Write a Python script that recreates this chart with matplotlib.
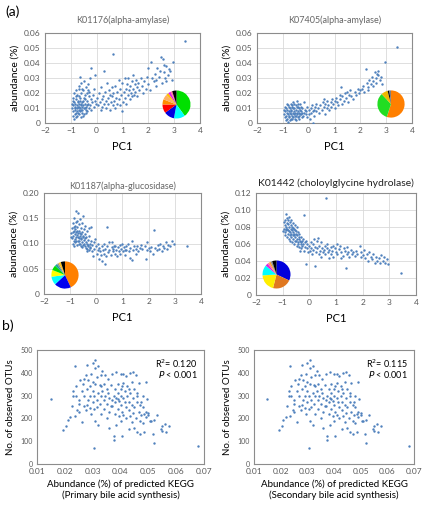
import numpy as np
import matplotlib.pyplot as plt

plt.rcParams['font.family'] = ['Lato', 'DejaVu Sans']

# ---- data ----
# panel a1: K01176, y in 0.001 %
k01176 = [(-0.95,10),(-0.92,12),(-0.9,8),(-0.88,14),(-0.85,6),(-0.85,11),(-0.83,9),(-0.82,13),(-0.8,7),(-0.8,16),
 (-0.78,10),(-0.77,12),(-0.75,5),(-0.75,8),(-0.74,14),(-0.72,11),(-0.7,9),(-0.7,18),(-0.68,6),(-0.68,13),(-0.66,10),
 (-0.65,15),(-0.63,8),(-0.62,12),(-0.6,4),(-0.6,20),(-0.58,11),(-0.57,9),(-0.55,14),(-0.55,7),(-0.53,22),(-0.52,12),
 (-0.5,10),(-0.5,17),(-0.48,6),(-0.47,13),(-0.45,19),(-0.43,9),(-0.42,24),(-0.4,11),(-0.38,15),(-0.36,8),(-0.35,26),
 (-0.33,13),(-0.3,18),(-0.3,10),(-0.28,21),(-0.25,12),(-0.25,30),(-0.22,16),(-0.2,9),(-0.2,37),(-0.18,14),(-0.15,19),
 (-0.12,11),(-0.1,23),(-0.08,15),(-0.05,32),(-0.02,13),(0.0,17),(-0.97,13),(-0.93,5),(-0.9,17),(-0.87,3),(-0.86,20),
 (-0.84,10),(-0.81,22),(-0.79,4),(-0.76,19),(-0.73,7),(-0.71,15),(-0.69,25),(-0.67,11),(-0.64,17),(-0.61,9),(-0.59,13),
 (-0.56,23),(-0.54,5),(-0.51,15),(-0.49,28),(-0.46,10),(-0.44,16),(-0.41,7),(-0.39,20),(-0.37,12),(-0.34,22),(-0.65,31),
 (-0.6,27),(-0.7,23),(-0.8,18),(-0.9,15),
 (0.05,12),(0.1,20),(0.12,14),(0.15,9),(0.18,24),(0.2,16),(0.22,11),(0.25,18),(0.28,13),(0.3,35),(0.32,21),(0.35,15),
 (0.38,10),(0.4,27),(0.42,17),(0.45,13),(0.48,22),(0.5,19),(0.52,9),(0.55,14),(0.58,24),(0.6,18),(0.62,12),(0.65,46),
 (0.65,20),(0.68,15),(0.7,10),(0.72,25),(0.75,17),(0.78,13),(0.8,21),(0.85,29),(0.88,16),(0.9,12),(0.92,23),(0.95,19),
 (0.98,8),(1.0,27),(1.02,14),(1.05,21),(1.08,30),(1.1,17),(1.12,23),(1.15,13),(1.18,26),(1.2,19),(1.22,30),(1.25,22),
 (1.28,16),(1.3,25),(1.32,20),(1.35,28),(1.38,18),(1.4,32),(1.42,23),(1.45,19),(1.48,26),(1.5,21),(1.52,29),(1.55,24),
 (1.58,18),(1.6,27),(1.65,22),(1.7,30),(1.75,25),(1.8,20),(1.85,28),(1.9,23),(1.95,31),(2.0,26),(2.05,22),
 (2.1,41),(2.15,30),(2.2,28),(2.25,33),(2.3,29),(2.35,37),(2.4,31),(2.45,35),(2.5,44),(2.52,27),(2.55,43),(2.6,34),
 (2.65,30),(2.7,38),(2.75,32),(2.8,36),(2.85,35),(2.9,29),(2.95,41),(3.4,55),(2.0,37),(2.3,25),(2.6,39),(2.7,28)]

# panel a2: K07405, y in 0.001 %
k07405 = [(-0.95,6),(-0.93,8),(-0.9,4),(-0.88,10),(-0.86,5),(-0.85,7),(-0.83,3),(-0.82,9),(-0.8,6),(-0.8,12),(-0.78,4),
 (-0.77,8),(-0.75,5),(-0.74,10),(-0.72,7),(-0.7,3),(-0.7,13),(-0.68,6),(-0.67,9),(-0.65,5),(-0.64,11),(-0.62,7),(-0.6,4),
 (-0.6,14),(-0.58,8),(-0.57,6),(-0.55,10),(-0.54,3),(-0.52,7),(-0.5,12),(-0.5,5),(-0.48,9),(-0.46,6),(-0.45,15),(-0.43,8),
 (-0.42,4),(-0.4,11),(-0.38,7),(-0.36,5),(-0.35,9),(-0.33,13),(-0.3,6),(-0.28,8),(-0.25,10),(-0.22,5),(-0.2,7),(-0.18,14),
 (-0.15,9),(-0.12,6),(-0.1,8),(-0.08,4),(-0.05,11),(-0.97,9),(-0.91,11),(-0.87,2),(-0.84,13),(-0.79,1),(-0.76,11),
 (-0.73,2),(-0.69,8),(-0.66,12),(-0.63,3),(-0.59,10),(-0.56,13),(-0.53,5),(-0.49,2),(-0.47,11),(-0.44,7),(-0.41,13),
 (-0.39,3),(-0.37,10),(-0.34,6),(-0.31,11),(-0.27,4),(-0.24,7),
 (0.0,9),(0.03,6),(0.05,3),(0.08,10),(0.1,7),(0.12,12),(0.15,8),(0.18,0),(0.2,9),(0.22,5),(0.25,11),(0.28,8),(0.3,13),
 (0.35,10),(0.4,7),(0.45,12),(0.5,9),(0.55,14),(0.58,16),(0.6,11),(0.62,6),(0.65,13),(0.7,10),(0.72,15),(0.75,12),
 (0.8,9),(0.85,14),(0.88,11),(0.9,16),(0.95,13),(1.0,15),(1.02,10),(1.05,17),(1.1,14),(1.15,12),(1.2,19),(1.22,16),
 (1.25,24),(1.28,13),(1.3,18),(1.35,15),(1.4,20),(1.45,17),(1.5,21),(1.52,14),(1.55,19),(1.6,22),(1.65,18),(1.7,16),
 (1.8,21),(1.85,19),(1.9,23),(1.95,20),(2.0,22),
 (2.05,23),(2.1,25),(2.15,21),(2.2,36),(2.25,27),(2.3,24),(2.35,29),(2.4,26),(2.45,31),(2.5,28),(2.55,34),(2.6,30),
 (2.62,27),(2.65,33),(2.7,32),(2.75,29),(2.8,31),(2.85,26),(2.95,41),(3.4,51),(2.3,22),(2.5,25),(2.7,35)]

# panel a3: K01187, y in 0.001 %
k01187 = [(-0.95,120),(-0.93,110),(-0.92,130),(-0.9,100),(-0.9,140),(-0.88,115),(-0.87,125),(-0.85,105),(-0.85,150),
 (-0.83,118),(-0.82,135),(-0.8,108),(-0.8,128),(-0.78,165),(-0.78,112),(-0.77,122),(-0.75,98),(-0.75,145),(-0.74,117),
 (-0.72,132),(-0.7,105),(-0.7,160),(-0.69,120),(-0.68,110),(-0.67,138),(-0.65,100),(-0.65,125),(-0.64,115),(-0.62,148),
 (-0.6,108),(-0.6,130),(-0.58,95),(-0.58,118),(-0.56,140),(-0.55,103),(-0.54,122),(-0.52,112),(-0.5,155),(-0.5,98),
 (-0.48,128),(-0.46,107),(-0.45,118),(-0.43,95),(-0.42,135),(-0.4,102),(-0.38,112),(-0.36,90),(-0.35,125),(-0.33,98),
 (-0.3,106),(-0.28,88),(-0.27,130),(-0.25,100),(-0.23,93),(-0.2,133),(-0.2,105),(-0.18,85),(-0.15,97),(-0.12,75),
 (-0.1,102),(-0.08,90),(-0.05,108),(-0.97,112),(-0.91,122),(-0.86,95),(-0.84,133),(-0.81,102),(-0.79,143),(-0.76,105),
 (-0.73,125),(-0.71,113),(-0.66,105),(-0.63,120),(-0.61,100),(-0.57,110),(-0.53,93),(-0.51,115),(-0.47,100),(-0.44,110),
 (-0.41,92),(-0.37,100),(-0.34,85),(-0.31,95),(-0.29,115),(-0.26,92),
 (0.0,95),(0.02,80),(0.05,88),(0.08,100),(0.1,70),(0.12,92),(0.15,85),(0.18,78),(0.2,95),(0.22,65),(0.25,88),(0.28,100),
 (0.3,80),(0.32,60),(0.35,90),(0.38,75),(0.4,132),(0.42,95),(0.45,83),(0.48,102),(0.5,88),(0.55,78),(0.58,93),(0.6,102),
 (0.62,85),(0.65,90),(0.7,80),(0.72,95),(0.75,88),(0.8,75),(0.82,93),(0.85,85),(0.9,98),(0.92,80),(0.95,90),(1.0,100),
 (1.02,85),(1.05,93),(1.1,78),(1.12,96),(1.15,88),(1.2,100),(1.25,85),(1.3,92),(1.35,105),(1.38,68),(1.4,88),(1.45,95),
 (1.5,80),(1.52,90),(1.55,96),(1.6,85),(1.65,92),(1.85,95),(1.9,70),(1.92,88),(1.95,102),(2.0,92),(2.05,85),(2.1,93),
 (2.15,80),(2.2,127),(2.25,92),(2.3,88),(2.35,97),(2.4,90),(2.45,100),(2.5,85),(2.55,95),(2.6,92),(2.65,103),(2.7,90),
 (2.75,98),(2.8,95),(2.9,105),(2.95,100),(3.45,96),(1.7,98),(1.75,90),(0.68,96),(1.08,88),(1.28,72)]

# panel a4: K01442, y in 0.001 %
k01442 = [(-0.95,78),(-0.93,82),(-0.92,74),(-0.9,88),(-0.9,70),(-0.88,80),(-0.87,95),(-0.86,76),(-0.85,85),(-0.84,68),
 (-0.83,90),(-0.82,78),(-0.8,72),(-0.8,84),(-0.78,66),(-0.77,80),(-0.76,92),(-0.75,75),(-0.74,70),(-0.73,86),(-0.72,64),
 (-0.7,78),(-0.7,82),(-0.69,72),(-0.68,68),(-0.67,88),(-0.66,76),(-0.65,62),(-0.64,80),(-0.63,70),(-0.62,85),(-0.6,74),
 (-0.6,66),(-0.58,78),(-0.57,60),(-0.56,72),(-0.55,82),(-0.54,68),(-0.52,76),(-0.5,64),(-0.5,72),(-0.48,80),(-0.47,58),
 (-0.46,70),(-0.45,66),(-0.43,74),(-0.42,62),(-0.4,68),(-0.38,56),(-0.37,72),(-0.35,64),(-0.33,60),(-0.32,68),(-0.3,55),
 (-0.28,63),(-0.27,58),(-0.25,66),(-0.22,60),(-0.2,94),(-0.2,52),(-0.18,62),(-0.15,57),(-0.13,37),(-0.12,64),(-0.1,55),
 (-0.08,60),(-0.05,50),(-0.97,75),(-0.94,86),(-0.89,78),(-0.81,88),(-0.79,76),(-0.71,74),(-0.61,79),(-0.59,70),
 (-0.53,64),(-0.49,75),(-0.44,60),(-0.39,66),(-0.36,52),(-0.31,62),
 (0.0,58),(0.02,52),(0.05,62),(0.08,55),(0.1,48),(0.12,60),(0.15,53),(0.18,66),(0.2,34),(0.22,57),(0.25,50),(0.28,64),
 (0.3,55),(0.32,67),(0.35,48),(0.38,58),(0.4,52),(0.42,62),(0.45,45),(0.48,55),(0.5,50),(0.55,53),(0.58,58),(0.6,48),
 (0.62,114),(0.65,55),(0.7,50),(0.72,43),(0.75,53),(0.8,48),(0.82,57),(0.85,52),(0.9,45),(0.95,55),(1.0,50),(1.02,60),
 (1.05,48),(1.1,54),(1.15,58),(1.2,50),(1.25,46),(1.3,55),(1.35,52),(1.38,32),(1.4,48),(1.42,57),(1.45,50),(1.5,45),
 (1.55,53),(1.6,48),(1.65,51),(1.9,58),(1.92,45),(1.95,50),(2.0,47),(2.05,53),(2.1,43),(2.15,48),(2.2,40),(2.25,50),
 (2.3,45),(2.35,42),(2.4,48),(2.45,38),(2.5,45),(2.55,40),(2.6,43),(2.65,38),(2.7,47),(2.75,40),(2.8,45),(2.85,38),
 (2.9,42),(2.95,36),(3.45,26),(1.7,46),(1.75,52),(1.8,48),(0.68,60),(0.88,58),(1.18,44)]

# panel b: abundance in 0.001 %, observed OTUs
otus = [(15,285),(19.5,150),(20.5,165),(21,195),(22,205),(22.5,255),(23,320),(23,300),(23.5,430),(23.5,210),(24,340),
 (24,300),(24.5,235),(25,230),(25,280),(25.5,370),(26,320),(26,185),(26.5,350),(27,255),(27,300),(27.5,235),(27.5,390),
 (28,330),(28,260),(28,435),(28.5,370),(28.5,280),(29,340),(29,245),(29,300),(29.5,395),(29.5,220),(30,360),(30,320),
 (30,270),(30,445),(30.5,70),(30.5,240),(30.5,300),(31,420),(31,455),(31,350),(31,190),(31.5,280),(31.5,250),(31.5,380),
 (32,310),(32,430),(32,170),(32.5,345),(32.5,265),(33,300),(33,220),(33,390),(33.5,410),(33.5,320),(34,280),(34,350),
 (34,240),(34.5,300),(34.5,390),(35,265),(35,330),(35,200),(35.5,310),(35.5,375),(36,290),(36,160),(36,230),(36.5,345),
 (37,280),(37,255),(37,395),(37.5,125),(37.5,300),(37.5,105),(38,330),(38,220),(38,270),(38.5,405),(38.5,170),(38.5,290),
 (39,310),(39,240),(39,350),(39.5,275),(39.5,210),(40,330),(40,300),(40,260),(40,190),(40,395),(40.5,340),(40.5,230),
 (40.5,125),(41,290),(41,355),(41,215),(41.5,270),(41.5,320),(42,250),(42,385),(42,200),(42.5,300),(42.5,340),(43,235),
 (43,270),(43,155),(43.5,400),(43.5,310),(43.5,210),(44,260),(44,360),(44,185),(44.5,405),(44.5,290),(44.5,225),(45,330),
 (45,160),(45,250),(45.5,390),(45.5,200),(46,270),(46,140),(46,310),(46.5,230),(46.5,355),(47,260),(47,190),(47,130),
 (47.5,215),(48,250),(48,300),(48,180),(48.5,220),(48.5,140),(49,360),(49,205),(49,230),(49.5,285),(50,225),(50,215),
 (50.5,190),(51,190),(51.5,130),(52,90),(52,195),(53,215),(54.5,155),(55,145),(55,165),(56,175),(56.5,140),(57.5,165),
 (68,80),(25,265),(27,375),(33,340),(36.5,255),(39,285),(41,395),(43,330),(46,300),(47.5,270)]

titles_a = ['K01176(alpha-amylase)', 'K07405(alpha-amylase)',
            'K01187(alpha-glucosidase)', 'K01442 (choloylglycine hydrolase)']
yticks_a = [[0, 0.01, 0.02, 0.03, 0.04, 0.05, 0.06],
            [0, 0.01, 0.02, 0.03, 0.04, 0.05, 0.06],
            [0, 0.05, 0.10, 0.15, 0.20],
            [0, 0.02, 0.04, 0.06, 0.08, 0.10, 0.12]]
ylabels_a = [['0', '0.01', '0.02', '0.03', '0.04', '0.05', '0.06'],
             ['0', '0.01', '0.02', '0.03', '0.04', '0.05', '0.06'],
             ['0', '0.05', '0.10', '0.15', '0.20'],
             ['0', '0.02', '0.04', '0.06', '0.08', '0.10', '0.12']]
xticks_a = [-2, -1, 0, 1, 2, 3, 4]

# pie insets (taxon shares)
pie_vals = [[0.40, 0.13, 0.12, 0.10, 0.06, 0.06, 0.03, 0.03, 0.02, 0.05],
            [0.55, 0.33, 0.08, 0.02, 0.02],
            [0.43, 0.20, 0.10, 0.08, 0.06, 0.03, 0.02, 0.03, 0.05],
            [0.32, 0.22, 0.20, 0.12, 0.03, 0.02, 0.02, 0.02, 0.05]]
pie_cols = [['#00e000', '#00ffff', '#0000e0', '#ff0000', '#ff8c00', '#ffb060', '#ffc000', '#e020e0', '#ff70a0', '#000000'],
            ['#ff7f00', '#22dd22', '#f0b800', '#000000', '#808080'],
            ['#ff8000', '#0000ee', '#00ffff', '#ffff00', '#00dd00', '#20a0a0', '#909090', '#ffc020', '#000000'],
            ['#0000dd', '#e07820', '#ffee00', '#00ffff', '#e020e0', '#ff70a0', '#ffa020', '#909090', '#000000']]

b_xticks = [0.01, 0.02, 0.03, 0.04, 0.05, 0.06, 0.07]
b_xlabels = ['Abundance (%) of predicted KEGG\n(Primary bile acid synthesis)',
             'Abundance (%) of predicted KEGG\n(Secondary bile acid synthesis)']
r2_text = ['R$^2$= 0.120', 'R$^2$= 0.115']

W, H = 425, 505
fig = plt.figure(figsize=(W / 100, H / 100), dpi=100)

def px_axes(l, t, r, b):
    return fig.add_axes([l / W, 1 - b / H, (r - l) / W, (b - t) / H])

dot = '#4f81bd'
tick_c = '#595959'
frame_c = '#8c8c8c'

boxes_a = [(45, 33, 200, 123), (257, 33, 412, 123), (44, 193, 201, 294), (256, 193, 416, 295)]
pie_boxes = [(159, 87, 194, 122), (374, 87, 408, 121), (48, 258, 82, 292), (259, 257, 294, 292)]
data_a = [k01176, k07405, k01187, k01442]

for i in range(4):
    ax = px_axes(*boxes_a[i])
    pts = np.array(data_a[i], dtype=float)
    ax.scatter(pts[:, 0], pts[:, 1] / 1000, s=3, color=dot, linewidths=0, zorder=3)
    ax.set_xlim(-2, 4)
    ax.set_ylim(yticks_a[i][0], yticks_a[i][-1])
    ax.set_xticks(xticks_a)
    ax.set_yticks(yticks_a[i])
    ax.set_yticklabels(ylabels_a[i])
    ax.grid(True, color='#d9d9d9', linewidth=0.6)
    ax.set_axisbelow(True)
    for sp in ax.spines.values():
        sp.set_color(frame_c)
        sp.set_linewidth(0.8)
    ax.tick_params(length=0, labelsize=6, colors=tick_c, pad=3)
    ax.set_xlabel('PC1', fontsize=8, labelpad=5)
    ax.set_ylabel('abundance (%)', fontsize=7.5, labelpad=3)
    if i == 3:
        ax.set_title(titles_a[i], fontsize=7.5, color='#222222', pad=5)
    else:
        ax.set_title(titles_a[i], fontsize=6.5, color='#666666', pad=7 if i < 2 else 3)
    pax = px_axes(*pie_boxes[i])
    pax.pie(pie_vals[i], colors=pie_cols[i], startangle=90, counterclock=False,
            wedgeprops=dict(linewidth=0))
    pax.set_aspect('equal')

boxes_b = [(37, 350, 204, 464), (254, 350, 414, 464)]
pts = np.array(otus, dtype=float)
for i in range(2):
    ax = px_axes(*boxes_b[i])
    ax.scatter(pts[:, 0] / 1000, pts[:, 1], s=3, color=dot, linewidths=0, zorder=3)
    ax.set_xlim(0.01, 0.07)
    ax.set_ylim(0, 500)
    ax.set_xticks(b_xticks)
    ax.set_yticks([0, 100, 200, 300, 400, 500])
    for sp in ax.spines.values():
        sp.set_color(frame_c)
        sp.set_linewidth(0.8)
    ax.tick_params(length=0, labelsize=6, colors=tick_c, pad=3)
    ax.tick_params(axis='y', labelsize=5)
    ax.set_xlabel(b_xlabels[i], fontsize=7, labelpad=3)
    ax.set_ylabel('No. of observed OTUs', fontsize=7, labelpad=4)
    ax.text(0.96, 0.93, r2_text[i], transform=ax.transAxes, ha='right', va='top', fontsize=6.5)
    ax.text(0.96, 0.83, r'$\it{P}$ < 0.001', transform=ax.transAxes, ha='right', va='top', fontsize=6.5)

fig.text(5 / W, 1 - 12 / H, '(a)', fontsize=10, va='center')
fig.text(2 / W, 1 - 326 / H, 'b)', fontsize=10, va='center')

fig.savefig('out.png', dpi=100)
